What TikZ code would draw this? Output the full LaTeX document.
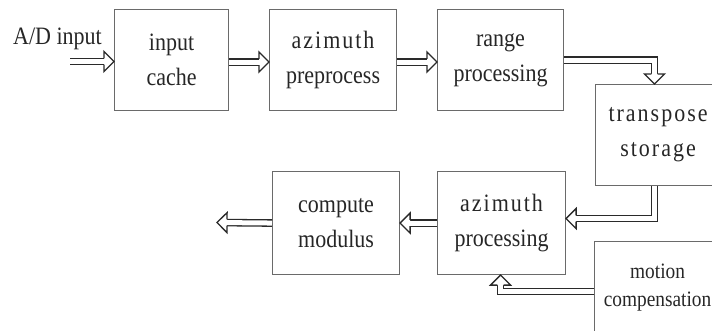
\documentclass[tikz,border=0pt]{standalone}
\usepackage{fontspec}
\setmainfont[FakeStretch=0.88]{Liberation Serif}
\newfontfamily\spacedfont[FakeStretch=0.88,LetterSpace=8]{Liberation Serif}
\usetikzlibrary{decorations.markings}
\definecolor{boxgray}{HTML}{6A6A6A}
\definecolor{arrcol}{HTML}{2A2A2A}
\definecolor{txtcol}{HTML}{262626}
\tikzset{
  box/.style={draw=boxgray, line width=1.1pt, inner sep=2pt, align=center,
    anchor=north west, text=txtcol, font=\fontsize{25}{35}\selectfont},
  smallbox/.style={box, font=\fontsize{22}{28}\selectfont},
  lbl/.style={text=txtcol, font=\fontsize{25}{30}\selectfont, inner sep=0pt},
  flow/.style={draw=arrcol, line width=1.3pt, double=white, double distance=5pt,
    shorten >=9.5pt, line join=miter, postaction={decorate},
    decoration={markings, mark=at position 1 with {
      \draw[arrcol, line width=1.3pt, fill=white, line join=miter, shorten >=0pt]
        (-10pt,3.15pt) -- (-10pt,10pt) -- (0pt,0pt) -- (-10pt,-10pt) -- (-10pt,-3.15pt);}}}
}
\begin{document}
\begin{tikzpicture}[x=1pt,y=-1pt]
\useasboundingbox (0,0) rectangle (712,331);
\node[box, minimum width=114pt, minimum height=101pt] (cache) at (114,9) {input\\cache};
\node[box, minimum width=127pt, minimum height=101pt] (azpre) at (269,9) {{\spacedfont azimuth}\\preprocess};
\node[box, minimum width=126pt, minimum height=101pt] (range) at (437,9) {range\\processing};
\node[box, minimum width=125pt, minimum height=101pt] (trans) at (595,84) {\spacedfont transpose\\\spacedfont storage};
\node[box, minimum width=128pt, minimum height=103pt] (azproc) at (437,171) {{\spacedfont azimuth}\\processing};
\node[box, minimum width=127pt, minimum height=103pt] (modul) at (272,171) {compute\\modulus};
\node[smallbox, minimum width=126pt, minimum height=92pt] (motion) at (594,241) {motion\\compensation};
\node[lbl, anchor=base] (adlbl) at (57.5,45) {A/D input};
\coordinate (adin) at (70,61.5);
\coordinate (out) at (217,222.5);
\draw[flow] (adin) -- (cache.west |- adin);
\draw[flow] ([yshift=-2pt]cache.east) -- ([yshift=-2pt]azpre.west);
\draw[flow] ([yshift=-2pt]azpre.east) -- ([yshift=-2pt]range.west);
\draw[flow] (range.east) -| ([xshift=-3.5pt]trans.north);
\draw[flow] ([xshift=-3.5pt]trans.south) |- ([yshift=4.5pt]azproc.east);
\draw[flow] (azproc.west) -- (modul.east);
\draw[flow] (modul.west) -- (out);
\draw[flow] ([yshift=-4pt]motion.west) -| ([xshift=-1pt]azproc.south);
\end{tikzpicture}
\end{document}
